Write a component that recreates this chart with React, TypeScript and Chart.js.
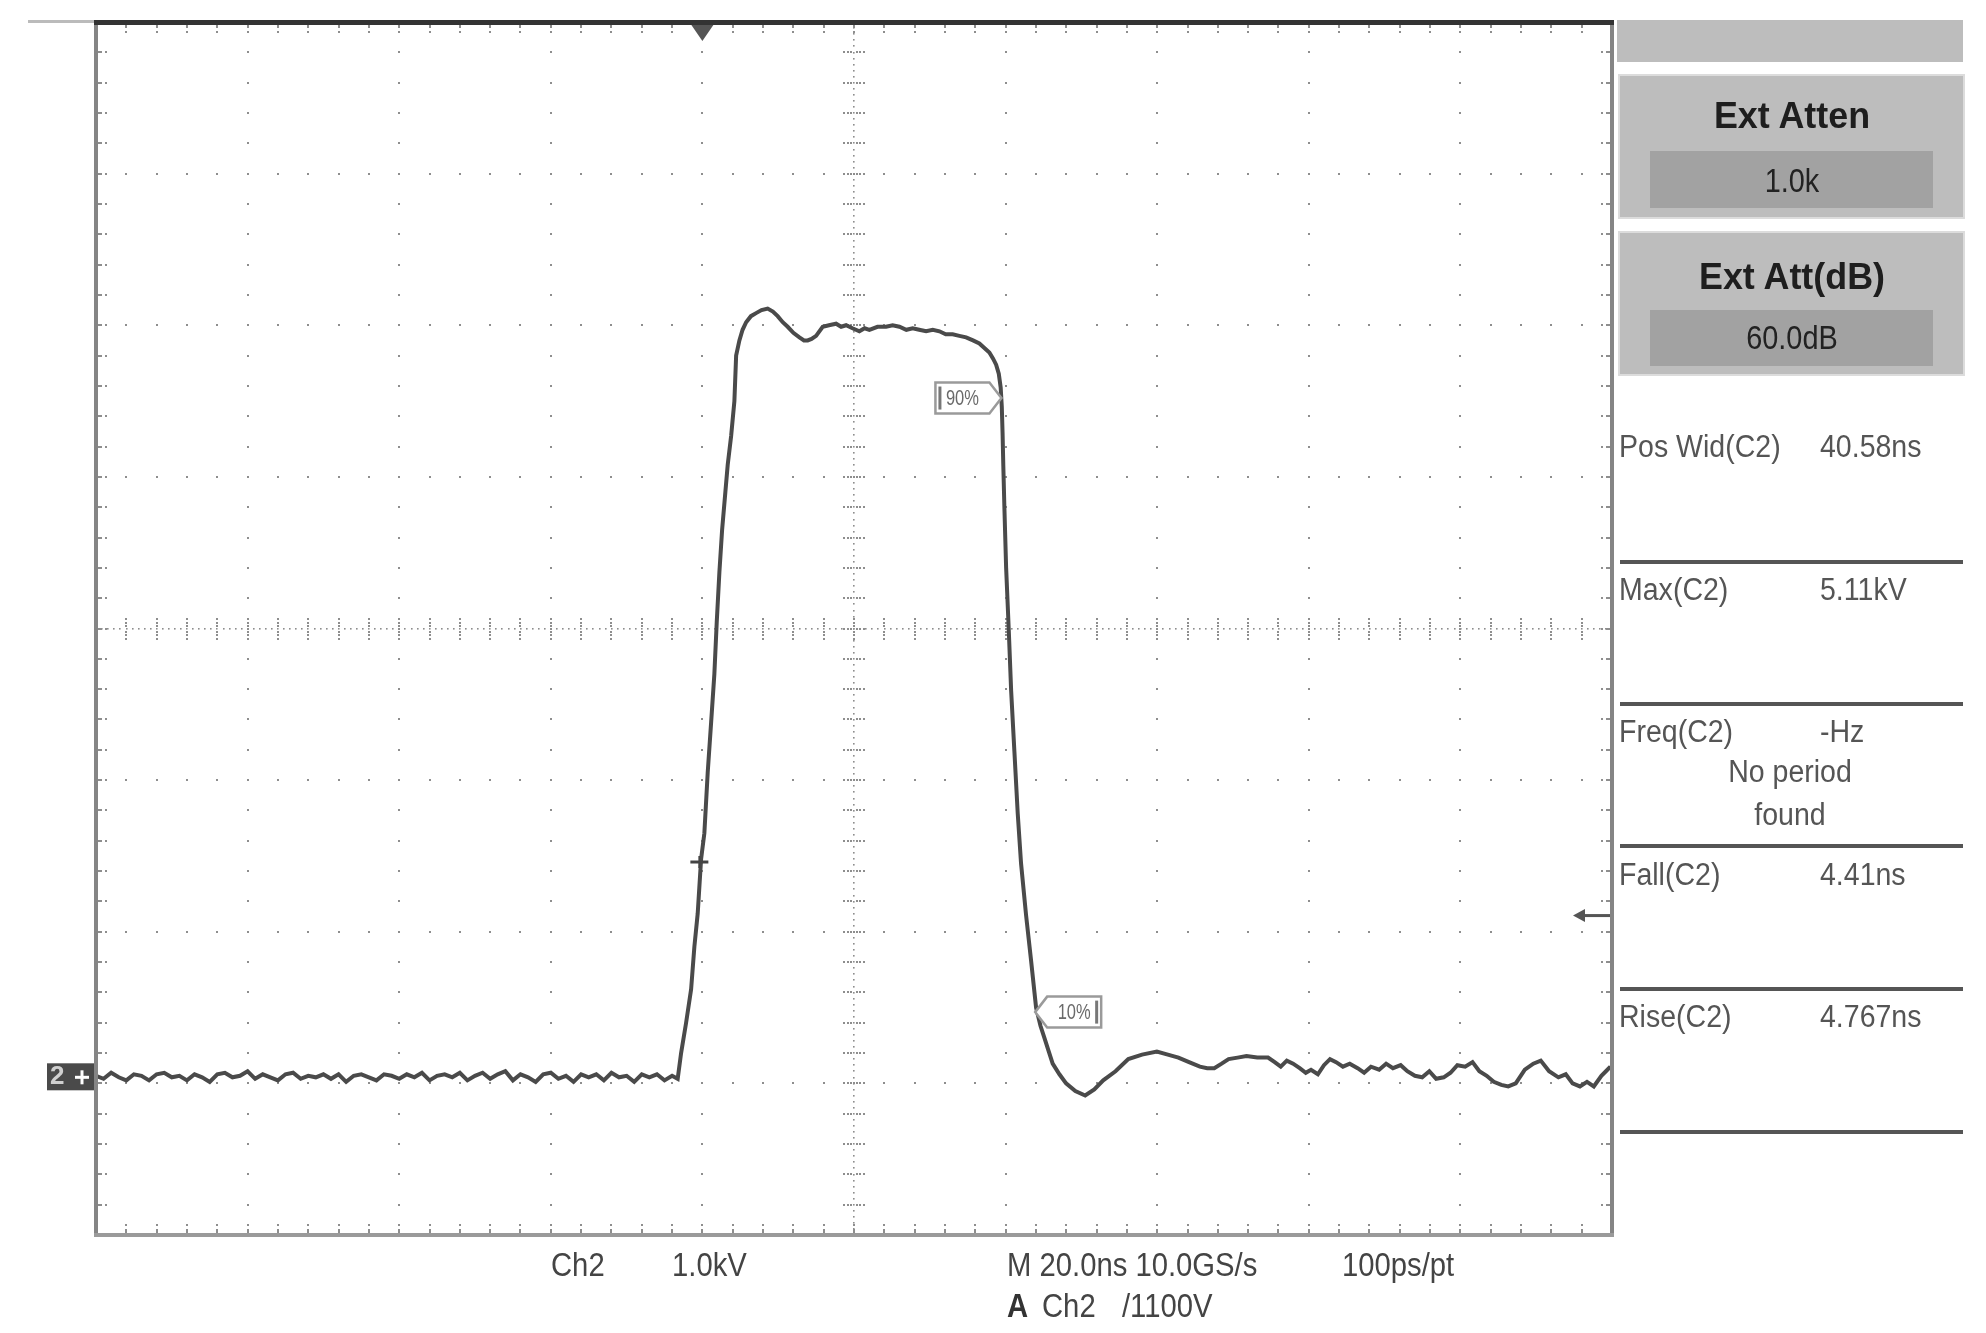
import React, { useEffect, useRef } from "react";
import { Chart, registerables } from "chart.js";

Chart.register(...registerables);

// ---- Trace data (time in ns relative to trigger, voltage in kV) ----
const baselineNs = [
  -80, -79, -78, -77, -76, -75, -74, -73, -72, -71, -70, -69, -68, -67, -66, -65, -64, -63, -62, -61,
  -60, -59, -58, -57, -56, -55, -54, -53, -52, -51, -50, -49, -48, -47, -46, -45, -44, -43, -42, -41,
  -40, -39, -38, -37, -36, -35, -34, -33, -32, -31, -30, -29, -28, -27, -26, -25, -24, -23, -22, -21,
  -20, -19, -18, -17, -16, -15, -14, -13, -12, -11, -10, -9, -8, -7, -6, -5, -4,
];
const baselineKV = [
  0.01, -0.01, 0.03, 0.0, -0.02, 0.02, 0.01, -0.02, 0.02, 0.03,
  0.0, 0.01, -0.02, 0.02, 0.0, -0.03, 0.02, 0.03, 0.0, 0.01,
  0.04, -0.01, 0.02, 0.0, -0.02, 0.02, 0.03, -0.01, 0.01, 0.0,
  0.02, -0.01, 0.02, -0.03, 0.01, 0.02, 0.0, -0.02, 0.02, 0.01,
  -0.01, 0.02, 0.0, 0.03, -0.02, 0.01, 0.02, 0.0, 0.03, -0.02,
  0.01, 0.03, -0.01, 0.02, 0.04, -0.02, 0.02, 0.0, -0.03, 0.02,
  0.03, -0.01, 0.01, -0.03, 0.02, 0.0, 0.02, -0.02, 0.03, 0.0,
  0.01, -0.03, 0.02, 0.0, 0.02, -0.02, 0.01,
];
const pulseNs = [
  -3.26, -2.81, -2.15, -1.49, -1.06, -0.62, -0.17, 0.26, 0.7, 1.15, 1.58, 1.89, 2.24, 2.6, 3.03, 3.34,
  3.79, 4.22, 4.45, 4.88, 5.3, 5.77, 6.4, 7.08, 7.8, 8.61, 9.3, 9.93, 10.6, 11.25, 12.0, 12.8, 13.4,
  13.89, 14.4, 15.0, 15.87, 16.7, 17.64, 18.3, 18.96, 19.8, 20.71, 21.4, 22.03, 23.1, 24.23, 25.1,
  25.99, 26.9, 27.74, 28.6, 29.51, 30.4, 31.27, 32.1, 33.02, 33.9, 34.79, 35.7, 36.54, 37.2, 37.86,
  38.35, 38.75, 39.1, 39.35, 39.5, 39.6, 39.7, 39.84, 40.07, 40.41, 40.73, 41.16, 41.6, 42.04, 42.7,
  43.36, 44.02, 44.6, 45.12, 45.7, 46.21, 47.1, 47.98,
];
const pulseKV = [
  -0.01, 0.16, 0.36, 0.58, 0.86, 1.08, 1.44, 1.61, 2.01, 2.34, 2.66, 3.0, 3.33, 3.61, 3.86, 4.04,
  4.23, 4.46, 4.76, 4.86, 4.93, 4.98, 5.02, 5.04, 5.06, 5.07, 5.05, 5.02, 4.98, 4.95, 4.91, 4.88, 4.86,
  4.86, 4.87, 4.89, 4.95, 4.96, 4.97, 4.95, 4.96, 4.94, 4.92, 4.94, 4.93, 4.95, 4.95, 4.96,
  4.95, 4.93, 4.94, 4.93, 4.92, 4.93, 4.92, 4.9, 4.9, 4.89, 4.88, 4.86, 4.84, 4.81, 4.78,
  4.74, 4.7, 4.64, 4.55, 4.42, 4.25, 4.03, 3.76, 3.36, 2.96, 2.55, 2.15, 1.74, 1.41, 1.07,
  0.77, 0.46, 0.34, 0.26, 0.17, 0.09, 0.02, -0.04,
];
const tailNs = [
  49.2, 50.5, 51.7, 52.88, 54.5, 56.19, 58.0, 59.96, 61.4, 62.8, 64.2, 65.63, 66.6, 67.53, 68.5, 69.42,
  70.6, 71.78, 73.2, 74.62, 75.5, 76.3, 77.1, 77.93, 78.8, 79.6, 80.29, 81.2, 82.0, 82.8, 83.6, 84.5,
  85.4, 86.44, 87.3, 88.2, 89.28, 90.2, 91.1, 92.12, 93.0, 94.0, 94.96, 95.9, 96.8, 97.8, 98.7, 99.6,
  100.63, 101.6, 102.5, 103.47, 104.4, 105.4, 106.31, 107.3, 108.5, 109.62, 110.6, 111.7, 112.93,
  113.9, 114.8, 115.77, 116.7, 117.6, 118.6, 119.2, 119.79,
];
const tailKV = [
  -0.09, -0.12, -0.08, -0.02, 0.04, 0.12, 0.15, 0.17, 0.15, 0.13, 0.1, 0.07, 0.06, 0.06, 0.09, 0.12,
  0.13, 0.14, 0.13, 0.13, 0.1, 0.07, 0.11, 0.09, 0.06, 0.03, 0.05, 0.02, 0.08, 0.12, 0.1, 0.07,
  0.09, 0.06, 0.03, 0.07, 0.05, 0.09, 0.06, 0.08, 0.04, 0.01, 0.0, 0.04, -0.01, 0.0, 0.03, 0.08,
  0.07, 0.1, 0.04, 0.01, -0.03, -0.05, -0.06, -0.04, 0.05, 0.09, 0.11, 0.04, 0.0,
  0.02, -0.04, -0.06, -0.03, -0.06, 0.01, 0.04, 0.07,
];

// ---- Scope settings ----
const X_MIN = -80;
const X_MAX = 120;
const X_DIV = 20; // 20 ns / div
const Y_MIN = -1.04;
const Y_MAX = 6.96;
const Y_DIV = 1; // 1.0 kV / div
const TRIGGER_LEVEL_KV = 1.07;
const TRIGGER_MARK = { t: -0.4, v: 1.42 };
const LABEL_90 = { t: 39.45, v: 4.48 };
const LABEL_10 = { t: 43.9, v: 0.43 };

const measurements = [
  { label: "Pos Wid(C2)", value: "40.58ns", y: 447 },
  { label: "Max(C2)", value: "5.11kV", y: 590 },
  { label: "Freq(C2)", value: "-Hz", y: 732 },
  { label: "Fall(C2)", value: "4.41ns", y: 875 },
  { label: "Rise(C2)", value: "4.767ns", y: 1017 },
];
const separatorsY = [562, 704, 846, 989, 1132];

function buildPoints() {
  const pts: { x: number; y: number }[] = [];
  const add = (ts: number[], vs: number[]) => {
    const n = Math.min(ts.length, vs.length);
    for (let i = 0; i < n; i++) pts.push({ x: ts[i], y: vs[i] });
  };
  add(baselineNs, baselineKV);
  add(pulseNs, pulseKV);
  add(tailNs, tailKV);
  return pts;
}

const FONT = '"Liberation Sans", Arial, sans-serif';

const scopePlugin = {
  id: "scopeGraticule",
  beforeDatasetsDraw(chart: any) {
    const ctx: CanvasRenderingContext2D = chart.ctx;
    const a = chart.chartArea;
    const xs = chart.scales.x;
    const ys = chart.scales.y;
    const nx = Math.round((X_MAX - X_MIN) / X_DIV);
    const ny = Math.round((Y_MAX - Y_MIN) / Y_DIV);
    const sub = 5;
    const px = (v: number) => xs.getPixelForValue(v);
    const py = (v: number) => ys.getPixelForValue(v);
    const dot = (x: number, y: number, s = 2) => ctx.fillRect(Math.round(x - s / 2), Math.round(y - s / 2), s, s);
    ctx.save();
    ctx.fillStyle = "#8e8e8e";
    const cxk = nx / 2;
    const cyk = ny / 2;
    for (let k = 1; k < nx; k++) {
      if (k === cxk) continue;
      const x = px(X_MIN + k * X_DIV);
      for (let j = 1; j < ny * sub; j++) dot(x, py(Y_MIN + (j * Y_DIV) / sub));
    }
    for (let k = 1; k < ny; k++) {
      if (k === cyk) continue;
      const y = py(Y_MIN + k * Y_DIV);
      for (let j = 1; j < nx * sub; j++) dot(px(X_MIN + (j * X_DIV) / sub), y);
    }
    const cx = px(X_MIN + cxk * X_DIV);
    const cy = py(Y_MIN + cyk * Y_DIV);
    for (let j = 1; j < ny * 25; j++) dot(cx, py(Y_MIN + (j * Y_DIV) / 25), 1.6);
    for (let j = 1; j < nx * 25; j++) dot(px(X_MIN + (j * X_DIV) / 25), cy, 1.6);
    for (let j = 1; j < ny * sub; j++) {
      const y = py(Y_MIN + (j * Y_DIV) / sub);
      for (const o of [-10, -6, -3, 3, 6, 10]) dot(cx + o, y, 2);
    }
    for (let j = 1; j < nx * sub; j++) {
      const x = px(X_MIN + (j * X_DIV) / sub);
      for (const o of [-10, -6, -3, 3, 6, 10]) dot(x, cy + o, 2);
    }
    for (let j = 1; j < nx * sub; j++) {
      const x = px(X_MIN + (j * X_DIV) / sub);
      ctx.fillRect(Math.round(x - 1), a.top + 2, 2, 4);
      dot(x, a.top + 10);
      ctx.fillRect(Math.round(x - 1), a.bottom - 6, 2, 4);
      dot(x, a.bottom - 10);
    }
    for (let j = 1; j < ny * sub; j++) {
      const y = py(Y_MIN + (j * Y_DIV) / sub);
      ctx.fillRect(a.left + 2, Math.round(y - 1), 4, 2);
      dot(a.left + 10, y);
      ctx.fillRect(a.right - 6, Math.round(y - 1), 4, 2);
      dot(a.right - 10, y);
    }
    ctx.restore();
  },
  afterDraw(chart: any) {
    const ctx: CanvasRenderingContext2D = chart.ctx;
    const a = chart.chartArea;
    const xs = chart.scales.x;
    const ys = chart.scales.y;
    ctx.save();
    ctx.fillStyle = "#bbbbbb";
    ctx.fillRect(28, a.top - 2, a.left - 28, 3);
    ctx.fillStyle = "#858585";
    ctx.fillRect(a.left - 2, a.top - 2, 4, a.bottom - a.top + 4);
    ctx.fillRect(a.right - 2, a.top - 2, 4, a.bottom - a.top + 4);
    ctx.fillStyle = "#9a9a9a";
    ctx.fillRect(a.left - 2, a.bottom - 2, a.right - a.left + 4, 4);
    ctx.fillStyle = "#333333";
    ctx.fillRect(a.left - 2, a.top - 2, a.right - a.left + 4, 5);

    const tx = xs.getPixelForValue(0);
    ctx.fillStyle = "#555555";
    ctx.beginPath();
    ctx.moveTo(tx - 11, a.top + 3);
    ctx.lineTo(tx + 11, a.top + 3);
    ctx.lineTo(tx, a.top + 19);
    ctx.closePath();
    ctx.fill();

    const mx = xs.getPixelForValue(TRIGGER_MARK.t);
    const my = ys.getPixelForValue(TRIGGER_MARK.v);
    ctx.fillStyle = "#444444";
    ctx.fillRect(mx - 9, my - 1.5, 18, 3);
    ctx.fillRect(mx - 1, my - 6, 2, 12);

    const ly = ys.getPixelForValue(TRIGGER_LEVEL_KV);
    ctx.fillStyle = "#555555";
    ctx.fillRect(a.right - 30, ly - 1, 28, 3);
    ctx.beginPath();
    ctx.moveTo(a.right - 39, ly + 0.5);
    ctx.lineTo(a.right - 27, ly - 6);
    ctx.lineTo(a.right - 27, ly + 7);
    ctx.closePath();
    ctx.fill();

    const gy = ys.getPixelForValue(0);
    ctx.fillStyle = "#4a4a4a";
    ctx.fillRect(47, gy - 14, a.left - 49, 27);
    ctx.fillStyle = "#d0d0d0";
    ctx.font = `bold 26px ${FONT}`;
    ctx.textBaseline = "middle";
    ctx.textAlign = "left";
    ctx.fillText("2", 50, gy);
    ctx.fillStyle = "#ffffff";
    ctx.fillRect(75, gy - 1.5, 14, 3);
    ctx.fillRect(80.5, gy - 7, 3, 14);

    const drawLabel = (tipX: number, tipY: number, dir: number, text: string) => {
      const w = 54;
      const h = 31;
      const tip = 12;
      ctx.beginPath();
      ctx.moveTo(tipX, tipY);
      ctx.lineTo(tipX - dir * tip, tipY - h / 2);
      ctx.lineTo(tipX - dir * (tip + w), tipY - h / 2);
      ctx.lineTo(tipX - dir * (tip + w), tipY + h / 2);
      ctx.lineTo(tipX - dir * tip, tipY + h / 2);
      ctx.closePath();
      ctx.fillStyle = "#ffffff";
      ctx.fill();
      ctx.strokeStyle = "#9a9a9a";
      ctx.lineWidth = 2.5;
      ctx.stroke();
      const edge = tipX - dir * (tip + w);
      ctx.fillStyle = "#777777";
      ctx.fillRect(edge + (dir > 0 ? 3 : -6), tipY - h / 2 + 4, 3, h - 8);
      ctx.save();
      ctx.translate(tipX - dir * (tip + w / 2), tipY);
      ctx.scale(0.75, 1);
      ctx.font = `22px ${FONT}`;
      ctx.textAlign = "center";
      ctx.textBaseline = "middle";
      ctx.fillStyle = "#6a6a6a";
      ctx.fillText(text, 0, 1);
      ctx.restore();
    };
    drawLabel(xs.getPixelForValue(LABEL_90.t), ys.getPixelForValue(LABEL_90.v), 1, "90%");
    drawLabel(xs.getPixelForValue(LABEL_10.t), ys.getPixelForValue(LABEL_10.v), -1, "10%");
    ctx.restore();
  },
};

function Txt(props: {
  x: number;
  y: number;
  text: string;
  size: number;
  bold?: boolean;
  color?: string;
  center?: boolean;
  sx?: number;
}) {
  const { x, y, text, size, bold, color, center, sx = 1 } = props;
  const h = size * 1.2;
  return (
    <div
      style={{
        position: "absolute",
        left: x,
        top: y - h / 2,
        height: h,
        lineHeight: `${h}px`,
        fontSize: size,
        fontFamily: FONT,
        fontWeight: bold ? 700 : 400,
        color: color || "#555",
        whiteSpace: "nowrap",
        transform: center ? `translateX(-50%) scaleX(${sx})` : `scaleX(${sx})`,
        transformOrigin: center ? "center center" : "left center",
      }}
    >
      {text}
    </div>
  );
}

export default function App() {
  const canvasRef = useRef<HTMLCanvasElement | null>(null);

  useEffect(() => {
    if (!canvasRef.current) return;
    const chart = new Chart(canvasRef.current, {
      type: "line",
      data: {
        datasets: [
          {
            label: "Ch2",
            data: buildPoints(),
            borderColor: "#4a4a4a",
            borderWidth: 4,
            pointRadius: 0,
            tension: 0,
            fill: false,
          },
        ],
      },
      options: {
        animation: false,
        responsive: false,
        maintainAspectRatio: false,
        layout: { padding: { left: 96, top: 22, right: 374, bottom: 98 } },
        plugins: { legend: { display: false }, tooltip: { enabled: false } },
        scales: {
          x: { type: "linear", min: X_MIN, max: X_MAX, display: false },
          y: { type: "linear", min: Y_MIN, max: Y_MAX, display: false },
        },
      },
      plugins: [scopePlugin as any],
    });
    return () => chart.destroy();
  }, []);

  const panelBg = "#bdbdbd";
  const innerBg = "#a2a2a2";

  return (
    <div style={{ position: "absolute", left: 0, top: 0, width: 1986, height: 1333, background: "#fff", overflow: "hidden" }}>
      <canvas ref={canvasRef} width={1986} height={1333} style={{ position: "absolute", left: 0, top: 0, width: 1986, height: 1333 }} />

      <div style={{ position: "absolute", left: 1617, top: 20, width: 346, height: 42, background: panelBg }} />
      <div style={{ position: "absolute", left: 1620, top: 76, width: 343, height: 141, background: panelBg, boxShadow: "0 0 0 2px #dcdcdc" }} />
      <div style={{ position: "absolute", left: 1650, top: 151, width: 283, height: 57, background: innerBg }} />
      <div style={{ position: "absolute", left: 1620, top: 233, width: 343, height: 141, background: panelBg, boxShadow: "0 0 0 2px #dcdcdc" }} />
      <div style={{ position: "absolute", left: 1650, top: 310, width: 283, height: 56, background: innerBg }} />
      <Txt x={1792} y={116} text="Ext Atten" size={37} bold color="#1e1e1e" center sx={0.97} />
      <Txt x={1792} y={180} text="1.0k" size={34} color="#222" center sx={0.85} />
      <Txt x={1792} y={277} text="Ext Att(dB)" size={37} bold color="#1e1e1e" center sx={0.97} />
      <Txt x={1792} y={337} text="60.0dB" size={34} color="#222" center sx={0.85} />

      {measurements.map((m) => (
        <React.Fragment key={m.label}>
          <Txt x={1619} y={m.y} text={m.label} size={31} color="#555" sx={0.92} />
          <Txt x={1820} y={m.y} text={m.value} size={31} color="#555" sx={0.92} />
        </React.Fragment>
      ))}
      <Txt x={1790} y={772} text="No period" size={31} color="#555" center sx={0.92} />
      <Txt x={1790} y={815} text="found" size={31} color="#555" center sx={0.92} />
      {separatorsY.map((y) => (
        <div key={y} style={{ position: "absolute", left: 1620, top: y - 2, width: 343, height: 4, background: "#555" }} />
      ))}

      <Txt x={551} y={1264} text="Ch2" size={34} color="#444" sx={0.86} />
      <Txt x={672} y={1264} text="1.0kV" size={34} color="#444" sx={0.86} />
      <Txt x={1007} y={1264} text="M 20.0ns 10.0GS/s" size={34} color="#444" sx={0.86} />
      <Txt x={1342} y={1264} text="100ps/pt" size={34} color="#444" sx={0.86} />
      <Txt x={1007} y={1305} text="A" size={34} color="#333" sx={0.86} bold />
      <Txt x={1042} y={1305} text="Ch2" size={34} color="#444" sx={0.86} />
      <Txt x={1122} y={1305} text="/1100V" size={34} color="#444" sx={0.86} />
    </div>
  );
}
